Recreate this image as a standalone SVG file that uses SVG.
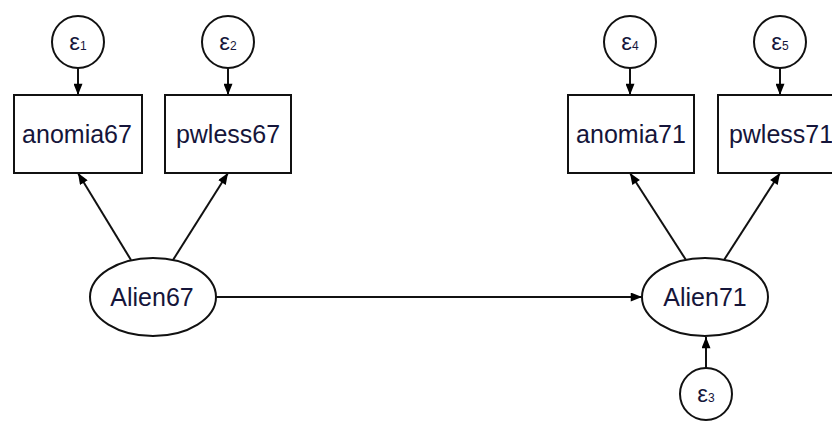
<svg xmlns="http://www.w3.org/2000/svg" width="832" height="421" viewBox="0 0 832 421">
<defs>
<marker id="arr" viewBox="0 0 10 8" refX="10" refY="4" markerWidth="12" markerHeight="9" markerUnits="userSpaceOnUse" orient="auto">
<path d="M0,0 L10,4 L0,8 Z" fill="#000"/>
</marker>
</defs>
<style>
.shape{fill:#fff;stroke:#111;stroke-width:2}
.lbl{font-family:"Liberation Sans",Arial,sans-serif;font-size:25px;fill:#15153a;text-anchor:middle}
.eps{font-family:"Liberation Sans",Arial,sans-serif;font-size:24px;fill:#15153a;text-anchor:middle}
.sub{font-size:12px}
.conn{stroke:#111;stroke-width:2;fill:none;marker-end:url(#arr)}
</style>
<rect width="832" height="421" fill="#fff"/>
<g id="connectors">
<line class="conn" x1="78" y1="68" x2="78" y2="95"/>
<line class="conn" x1="228" y1="68" x2="228" y2="95"/>
<line class="conn" x1="630" y1="68" x2="630" y2="95"/>
<line class="conn" x1="780" y1="68" x2="780" y2="95"/>
<line class="conn" x1="131" y1="260" x2="78" y2="173"/>
<line class="conn" x1="173" y1="260" x2="228" y2="173"/>
<line class="conn" x1="686" y1="260" x2="630" y2="173"/>
<line class="conn" x1="724" y1="260" x2="780" y2="173"/>
<line class="conn" x1="216" y1="297" x2="642" y2="297"/>
<line class="conn" x1="706" y1="368" x2="706" y2="337"/>
</g>
<g id="e1"><circle class="shape" cx="78" cy="42" r="26"/><text class="eps" x="78" y="50">ε<tspan class="sub">1</tspan></text></g>
<g id="e2"><circle class="shape" cx="228" cy="42" r="26"/><text class="eps" x="228" y="50">ε<tspan class="sub">2</tspan></text></g>
<g id="e4"><circle class="shape" cx="630" cy="42" r="26"/><text class="eps" x="630" y="50">ε<tspan class="sub">4</tspan></text></g>
<g id="e5"><circle class="shape" cx="780" cy="42" r="26"/><text class="eps" x="780" y="50">ε<tspan class="sub">5</tspan></text></g>
<g id="e3"><circle class="shape" cx="706" cy="394" r="26"/><text class="eps" x="706" y="402">ε<tspan class="sub">3</tspan></text></g>
<g id="anomia67"><rect class="shape" x="14" y="95" width="128" height="78"/><text class="lbl" x="77" y="143">anomia67</text></g>
<g id="pwless67"><rect class="shape" x="165" y="95" width="126" height="78"/><text class="lbl" x="228" y="143">pwless67</text></g>
<g id="anomia71"><rect class="shape" x="568" y="95" width="126" height="78"/><text class="lbl" x="631" y="143">anomia71</text></g>
<g id="pwless71"><rect class="shape" x="718" y="95" width="126" height="78"/><text class="lbl" x="781" y="143">pwless71</text></g>
<g id="Alien67"><ellipse class="shape" cx="153" cy="297" rx="63" ry="39"/><text class="lbl" x="152" y="306">Alien67</text></g>
<g id="Alien71"><ellipse class="shape" cx="705" cy="297" rx="63" ry="39"/><text class="lbl" x="705" y="306">Alien71</text></g>
</svg>
